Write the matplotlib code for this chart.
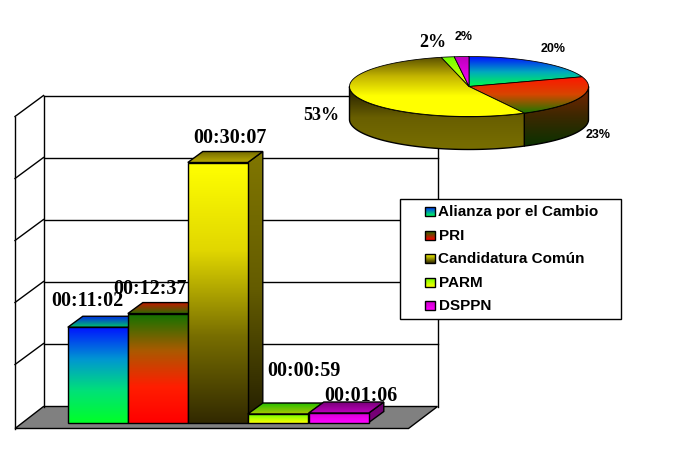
import numpy as np
import matplotlib
matplotlib.use("Agg")
import matplotlib.pyplot as plt
from matplotlib.patches import Polygon

partidos = ["Alianza por el Cambio", "PRI", "Candidatura Común", "PARM", "DSPPN"]
tiempos = ["00:11:02", "00:12:37", "00:30:07", "00:00:59", "00:01:06"]
segundos = [662, 757, 1807, 59, 66]
porcentajes = ["20%", "23%", "53%", "2%", "2%"]

W, H = 675, 452
PX_POR_SEG = 260 / 1807.0  # 30:07 is 260 px tall in the picture
BASE = 423.5
ANCHO = 60
DX, DY = 15, 11


# colours run from top to bottom
def c(r, g, b):
    return (r / 255.0, g / 255.0, b / 255.0)


frente = [
    [c(0, 20, 255), c(0, 150, 210), c(0, 225, 120), c(0, 255, 40)],
    [c(20, 115, 0), c(170, 90, 0), c(255, 30, 0), c(255, 0, 0)],
    [c(255, 255, 0), c(225, 215, 0), c(120, 110, 0), c(50, 42, 0)],
    [c(110, 255, 0), c(255, 255, 0)],
    [c(215, 0, 215), c(255, 0, 255)],
]
tapa = [
    [c(0, 40, 230), c(0, 190, 110)],
    [c(190, 30, 0), c(40, 110, 0)],
    [c(120, 110, 0), c(190, 175, 0)],
    [c(40, 190, 0), c(170, 200, 0)],
    [c(120, 0, 120), c(190, 0, 190)],
]
lado = [
    [c(0, 20, 130), c(0, 120, 20)],
    [c(130, 20, 0), c(120, 0, 0)],
    [c(128, 118, 0), c(100, 92, 0), c(35, 30, 0)],
    [c(50, 125, 0), c(125, 125, 0)],
    [c(110, 0, 110), c(125, 0, 125)],
]
pie_top = [
    [c(0, 20, 255), c(0, 170, 190), c(0, 255, 70)],
    [c(255, 20, 0), c(215, 70, 0), c(30, 120, 0)],
    [c(85, 75, 0), c(195, 180, 0), c(255, 255, 0), c(255, 255, 0)],
    [c(110, 255, 0), c(240, 255, 0)],
    [c(190, 0, 190), c(255, 0, 255)],
]
pie_side = [
    [c(0, 0, 0), c(0, 0, 0)],
    [c(125, 35, 0), c(60, 40, 0), c(10, 50, 0)],
    [c(30, 25, 0), c(105, 95, 0), c(120, 110, 0)],
    [c(0, 0, 0), c(0, 0, 0)],
    [c(0, 0, 0), c(0, 0, 0)],
]
legend_sw = [
    [c(0, 40, 255), c(0, 255, 90)],
    [c(30, 110, 0), c(255, 0, 0)],
    [c(255, 255, 0), c(50, 42, 0)],
    [c(110, 255, 0), c(255, 255, 0)],
    [c(200, 0, 200), c(255, 0, 255)],
]

orden = [2]


def degradado(ax, verts, stops, lw=1.0, ec="black"):
    verts = np.array(verts)
    x0, x1 = verts[:, 0].min(), verts[:, 0].max()
    y0, y1 = verts[:, 1].min(), verts[:, 1].max()
    pos = np.linspace(0, 1, len(stops))
    t = np.linspace(0, 1, 128)
    img = np.array([[np.interp(t, pos, [s[k] for s in stops]) for k in range(3)]])
    img = img.transpose(2, 0, 1).reshape(128, 1, 3)
    arriba, abajo = (y0, y1) if ax.yaxis_inverted() else (y1, y0)
    orden[0] += 1
    im = ax.imshow(img, extent=(x0, x1, abajo, arriba), aspect="auto",
                   interpolation="bilinear", zorder=orden[0])
    orden[0] += 1
    p = Polygon(verts, closed=True, transform=ax.transData, fc="none", ec=ec, lw=lw, zorder=orden[0])
    ax.add_patch(p)
    im.set_clip_path(p)


fig = plt.figure(figsize=(W / 100.0, H / 100.0), dpi=100, facecolor="white")

# wall and floor, in pixels
ax = fig.add_axes([0, 0, 1, 1], zorder=0)
ax.set_xlim(-0.5, W - 0.5)
ax.set_ylim(H - 0.5, -0.5)
ax.axis("off")

for y in [96, 158, 220, 282, 344]:
    ax.plot([43, 437], [y, y], color="black", lw=1)
    ax.plot([14.5, 43], [y + 21, y], color="black", lw=1)
ax.plot([14.5, 14.5], [117, 429], color="black", lw=1)
ax.plot([43, 43], [96, 407], color="black", lw=1)
ax.plot([437, 437], [96, 407], color="black", lw=1)
ax.add_patch(Polygon([(43, 407), (437, 407), (408, 429), (14.5, 429)], closed=True,
                     fc="#808080", ec="black", lw=1))

# bars, y axis in seconds
ax_b = fig.add_axes([0, 0, 1, 1], zorder=1)
ax_b.patch.set_alpha(0)
ax_b.axis("off")
xs = [67.3, 127.3, 187.3, 247.3, 308.3]
dy = DY / PX_POR_SEG
for i, seg in enumerate(segundos):
    x = xs[i]
    degradado(ax_b, [(x + ANCHO, seg), (x + ANCHO + DX, seg + dy), (x + ANCHO + DX, dy), (x + ANCHO, 0)], lado[i])
    degradado(ax_b, [(x, seg), (x + DX, seg + dy), (x + ANCHO + DX, seg + dy), (x + ANCHO, seg)], tapa[i])
    degradado(ax_b, [(x, 0), (x + ANCHO, 0), (x + ANCHO, seg), (x, seg)], frente[i])
ax_b.set_xlim(-0.5, W - 0.5)
ax_b.set_ylim(-(H - BASE) / PX_POR_SEG, BASE / PX_POR_SEG)

# pie and legend, in pixels again
ax_p = fig.add_axes([0, 0, 1, 1], zorder=2)
ax_p.patch.set_alpha(0)
ax_p.set_xlim(-0.5, W - 0.5)
ax_p.set_ylim(H - 0.5, -0.5)
ax_p.axis("off")

cx, cy, a, b, prof = 468.5, 87, 119.5, 30, 33
fracs = np.array(segundos) / float(sum(segundos))
bordes = np.concatenate([[0], np.cumsum(fracs)]) * 2 * np.pi


def borde(t, baja=0):
    return np.column_stack([cx + a * np.sin(t), cy - b * np.cos(t) + baja])


for i in range(len(fracs)):
    t0 = max(bordes[i], np.pi / 2)
    t1 = min(bordes[i + 1], 3 * np.pi / 2)
    if t1 > t0:
        t = np.linspace(t0, t1, 80)
        degradado(ax_p, np.vstack([borde(t), borde(t[::-1], prof)]), pie_side[i])
for i in range(len(fracs)):
    t = np.linspace(bordes[i], bordes[i + 1], 80)
    degradado(ax_p, np.vstack([[(cx, cy)], borde(t)]), pie_top[i], lw=0.6)

z = orden[0] + 1
ax_p.add_patch(Polygon([(399, 199), (620, 199), (620, 319), (399, 319)], closed=True,
                       fc="white", ec="black", lw=1, zorder=z))
orden[0] = z
leg_y = [212, 236, 259, 283, 306]
for i, nombre in enumerate(partidos):
    y = leg_y[i]
    degradado(ax_p, [(424, y - 4.5), (434, y - 4.5), (434, y + 4.5), (424, y + 4.5)], legend_sw[i])
    ax_p.text(438, y, nombre, family="Liberation Sans", weight="bold", size=11,
              va="center", ha="left", zorder=orden[0] + 1)

# time labels
z = orden[0] + 2
lab_x = [87, 150, 229, 303, 360]
lab_y = [301, 289, 138, 371, 396]
for i, s in enumerate(tiempos):
    ax_p.text(lab_x[i], lab_y[i], s, family="Liberation Serif", weight="bold", size=14.5,
              ha="center", va="center", zorder=z)

# percent labels
pct_pos = [(553, 48), (598, 135), (321, 115), (432, 42), (463, 36)]
pct_fam = ["Liberation Sans", "Liberation Sans", "Liberation Serif", "Liberation Serif", "Liberation Sans"]
pct_size = [9, 9, 13, 13, 9]
for i, s in enumerate(porcentajes):
    ax_p.text(pct_pos[i][0], pct_pos[i][1], s, family=pct_fam[i], weight="bold", size=pct_size[i],
              ha="center", va="center", zorder=z)

fig.savefig("out.png", dpi=100)
